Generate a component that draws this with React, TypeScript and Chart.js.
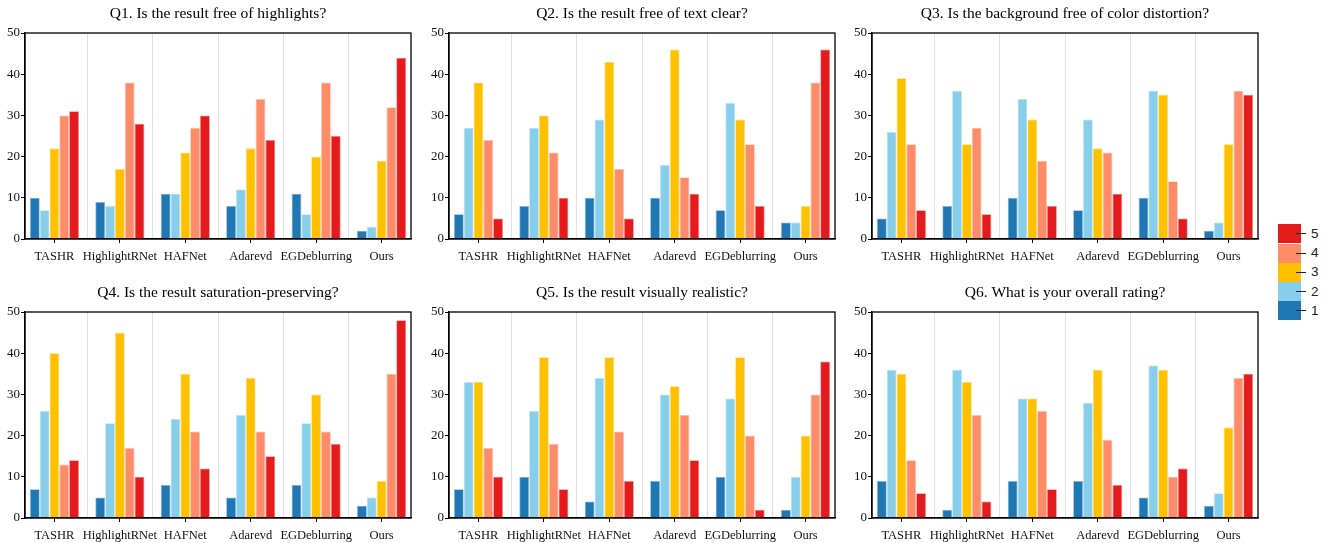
import React, { useEffect, useRef } from 'react';
import { Chart, registerables } from 'chart.js';

Chart.register(...registerables);

// ---------------- data ----------------
const methods = ['TASHR', 'HighlightRNet', 'HAFNet', 'Adarevd', 'EGDeblurring', 'Ours'];
const ratingLabels = ['1', '2', '3', '4', '5'];
const ratingColors = ['#1f77b4', '#87ceeb', '#ffc000', '#ff8c69', '#e41a1c'];
const yTickValues = [0, 10, 20, 30, 40, 50];

const titles = [
  'Q1. Is the result free of highlights?',
  'Q2. Is the result free of text clear?',
  'Q3. Is the background free of color distortion?',
  'Q4. Is the result saturation-preserving?',
  'Q5. Is the result visually realistic?',
  'Q6. What is your overall rating?',
];

// each row = one rating (1..5), values per method
const q1Scores = [
  [10, 9, 11, 8, 11, 2],
  [7, 8, 11, 12, 6, 3],
  [22, 17, 21, 22, 20, 19],
  [30, 38, 27, 34, 38, 32],
  [31, 28, 30, 24, 25, 44],
];
const q2Scores = [
  [6, 8, 10, 10, 7, 4],
  [27, 27, 29, 18, 33, 4],
  [38, 30, 43, 46, 29, 8],
  [24, 21, 17, 15, 23, 38],
  [5, 10, 5, 11, 8, 46],
];
const q3Scores = [
  [5, 8, 10, 7, 10, 2],
  [26, 36, 34, 29, 36, 4],
  [39, 23, 29, 22, 35, 23],
  [23, 27, 19, 21, 14, 36],
  [7, 6, 8, 11, 5, 35],
];
const q4Scores = [
  [7, 5, 8, 5, 8, 3],
  [26, 23, 24, 25, 23, 5],
  [40, 45, 35, 34, 30, 9],
  [13, 17, 21, 21, 21, 35],
  [14, 10, 12, 15, 18, 48],
];
const q5Scores = [
  [7, 10, 4, 9, 10, 2],
  [33, 26, 34, 30, 29, 10],
  [33, 39, 39, 32, 39, 20],
  [17, 18, 21, 25, 20, 30],
  [10, 7, 9, 14, 2, 38],
];
const q6Scores = [
  [9, 2, 9, 9, 5, 3],
  [36, 36, 29, 28, 37, 6],
  [35, 33, 29, 36, 36, 22],
  [14, 25, 26, 19, 10, 34],
  [6, 4, 7, 8, 12, 35],
];
const allScores = [q1Scores, q2Scores, q3Scores, q4Scores, q5Scores, q6Scores];

// ---------------- layout ----------------
const PLOT_W = 386;
const PLOT_H = 206;
const Y_AXIS_W = 25;
const RIGHT_PAD = 12;
const X_AXIS_H = 25;
const TITLE_H = 33;
const colLefts = [25, 449, 872];
const rowTops = [33, 312];
const SERIF = "'Liberation Serif', 'Times New Roman', serif";

function lighten(hex: string, amt: number) {
  const n = parseInt(hex.slice(1), 16);
  const r = (n >> 16) & 255, g = (n >> 8) & 255, b = n & 255;
  const f = (c: number) => Math.round(c + (255 - c) * amt);
  return `rgb(${f(r)},${f(g)},${f(b)})`;
}

const framePlugin = {
  id: 'frame',
  afterDatasetsDraw(chart: any) {
    const { ctx, chartArea } = chart;
    const { left, top, right, bottom } = chartArea;
    ctx.save();
    ctx.strokeStyle = '#000';
    ctx.lineWidth = 1.3;
    ctx.strokeRect(left, top, right - left, bottom - top);
    ctx.restore();
  },
};

const xTickValues: number[] = [];
for (let i = 0; i <= (methods.length - 1) * 2; i++) xTickValues.push(i / 2);

function Panel({ title, scores, left, top }: { title: string; scores: number[][]; left: number; top: number }) {
  const ref = useRef<HTMLCanvasElement>(null);
  const cw = Y_AXIS_W + PLOT_W + RIGHT_PAD;
  const ch = TITLE_H + PLOT_H + X_AXIS_H;
  useEffect(() => {
    const chart = new Chart(ref.current as HTMLCanvasElement, {
      type: 'bar',
      data: {
        datasets: scores.map((s, r) => ({
          label: ratingLabels[r],
          data: s.map((v, i) => ({ x: i, y: v })),
          backgroundColor: ratingColors[r],
          borderColor: lighten(ratingColors[r], 0.45),
          borderWidth: 0.8,
          categoryPercentage: 1.5,
          barPercentage: 1,
        })),
      },
      options: {
        animation: false,
        responsive: false,
        maintainAspectRatio: false,
        layout: { padding: { left: 0, right: RIGHT_PAD, top: 0, bottom: 0 } },
        plugins: {
          legend: { display: false },
          tooltip: { enabled: false },
          title: {
            display: true,
            fullSize: false,
            text: title,
            color: '#000',
            font: { family: SERIF, size: 15.5, weight: 'normal', lineHeight: 1.2 },
            padding: { top: 5, bottom: TITLE_H - 5 - 15.5 * 1.2 },
          },
        },
        scales: {
          x: {
            type: 'linear',
            min: -0.45,
            max: methods.length - 1 + 0.45,
            offset: false,
            afterBuildTicks: (scale: any) => {
              scale.ticks = xTickValues.map((v) => ({ value: v }));
            },
            afterFit: (scale: any) => {
              scale.height = X_AXIS_H;
            },
            grid: {
              offset: false,
              drawOnChartArea: true,
              drawTicks: true,
              tickLength: 4,
              lineWidth: 1,
              color: (c: any) => (c.tick && !Number.isInteger(c.tick.value) ? '#e0e0e0' : 'rgba(0,0,0,0)'),
              tickColor: (c: any) => (c.tick && Number.isInteger(c.tick.value) ? '#000' : 'rgba(0,0,0,0)'),
            },
            border: { display: true, color: '#000', width: 1.3 },
            ticks: {
              autoSkip: false,
              maxRotation: 0,
              minRotation: 0,
              padding: 6.5,
              color: '#111',
              font: { family: SERIF, size: 12.5 },
              callback: (v: any) => (Number.isInteger(v) ? methods[v] : ''),
            },
          },
          y: {
            type: 'linear',
            min: 0,
            max: 50,
            afterBuildTicks: (scale: any) => {
              scale.ticks = yTickValues.map((v) => ({ value: v }));
            },
            afterFit: (scale: any) => {
              scale.width = Y_AXIS_W;
            },
            grid: {
              drawOnChartArea: false,
              drawTicks: true,
              tickLength: 4,
              tickColor: '#000',
            },
            border: { display: true, color: '#000', width: 1.3 },
            ticks: {
              padding: 1,
              color: '#111',
              font: { family: SERIF, size: 13 },
            },
          },
        },
      },
      plugins: [framePlugin],
    } as any);
    return () => chart.destroy();
  }, []);
  return (
    <canvas
      ref={ref}
      width={cw}
      height={ch}
      style={{ position: 'absolute', left: left - Y_AXIS_W, top: top - TITLE_H, width: cw, height: ch }}
    />
  );
}

function ColorLegend() {
  const patchH = 19.2;
  const top = 224.3;
  const items = [...ratingLabels].map((l, i) => ({ l, c: ratingColors[i] })).reverse();
  return (
    <div style={{ position: 'absolute', left: 0, top: 0 }}>
      {items.map((it, k) => (
        <React.Fragment key={it.l}>
          <div
            style={{
              position: 'absolute',
              left: 1278,
              top: top + k * patchH,
              width: 23,
              height: patchH,
              background: it.c,
            }}
          />
          <div
            style={{
              position: 'absolute',
              left: 1296,
              top: top + k * patchH + patchH / 2 - 0.5,
              width: 10,
              height: 1,
              background: '#222',
            }}
          />
          <div
            style={{
              position: 'absolute',
              left: 1311,
              top: top + k * patchH + patchH / 2 - 9,
              height: 18,
              lineHeight: '18px',
              fontFamily: "'Liberation Sans', Arial, sans-serif",
              fontSize: 13.5,
              color: '#222',
            }}
          >
            {it.l}
          </div>
        </React.Fragment>
      ))}
    </div>
  );
}

export default function App() {
  return (
    <div style={{ position: 'absolute', left: 0, top: 0, width: 1327, height: 543, overflow: 'hidden', background: '#fff' }}>
      {allScores.map((s, i) => (
        <Panel key={i} title={titles[i]} scores={s} left={colLefts[i % 3]} top={rowTops[Math.floor(i / 3)]} />
      ))}
      <ColorLegend />
    </div>
  );
}
